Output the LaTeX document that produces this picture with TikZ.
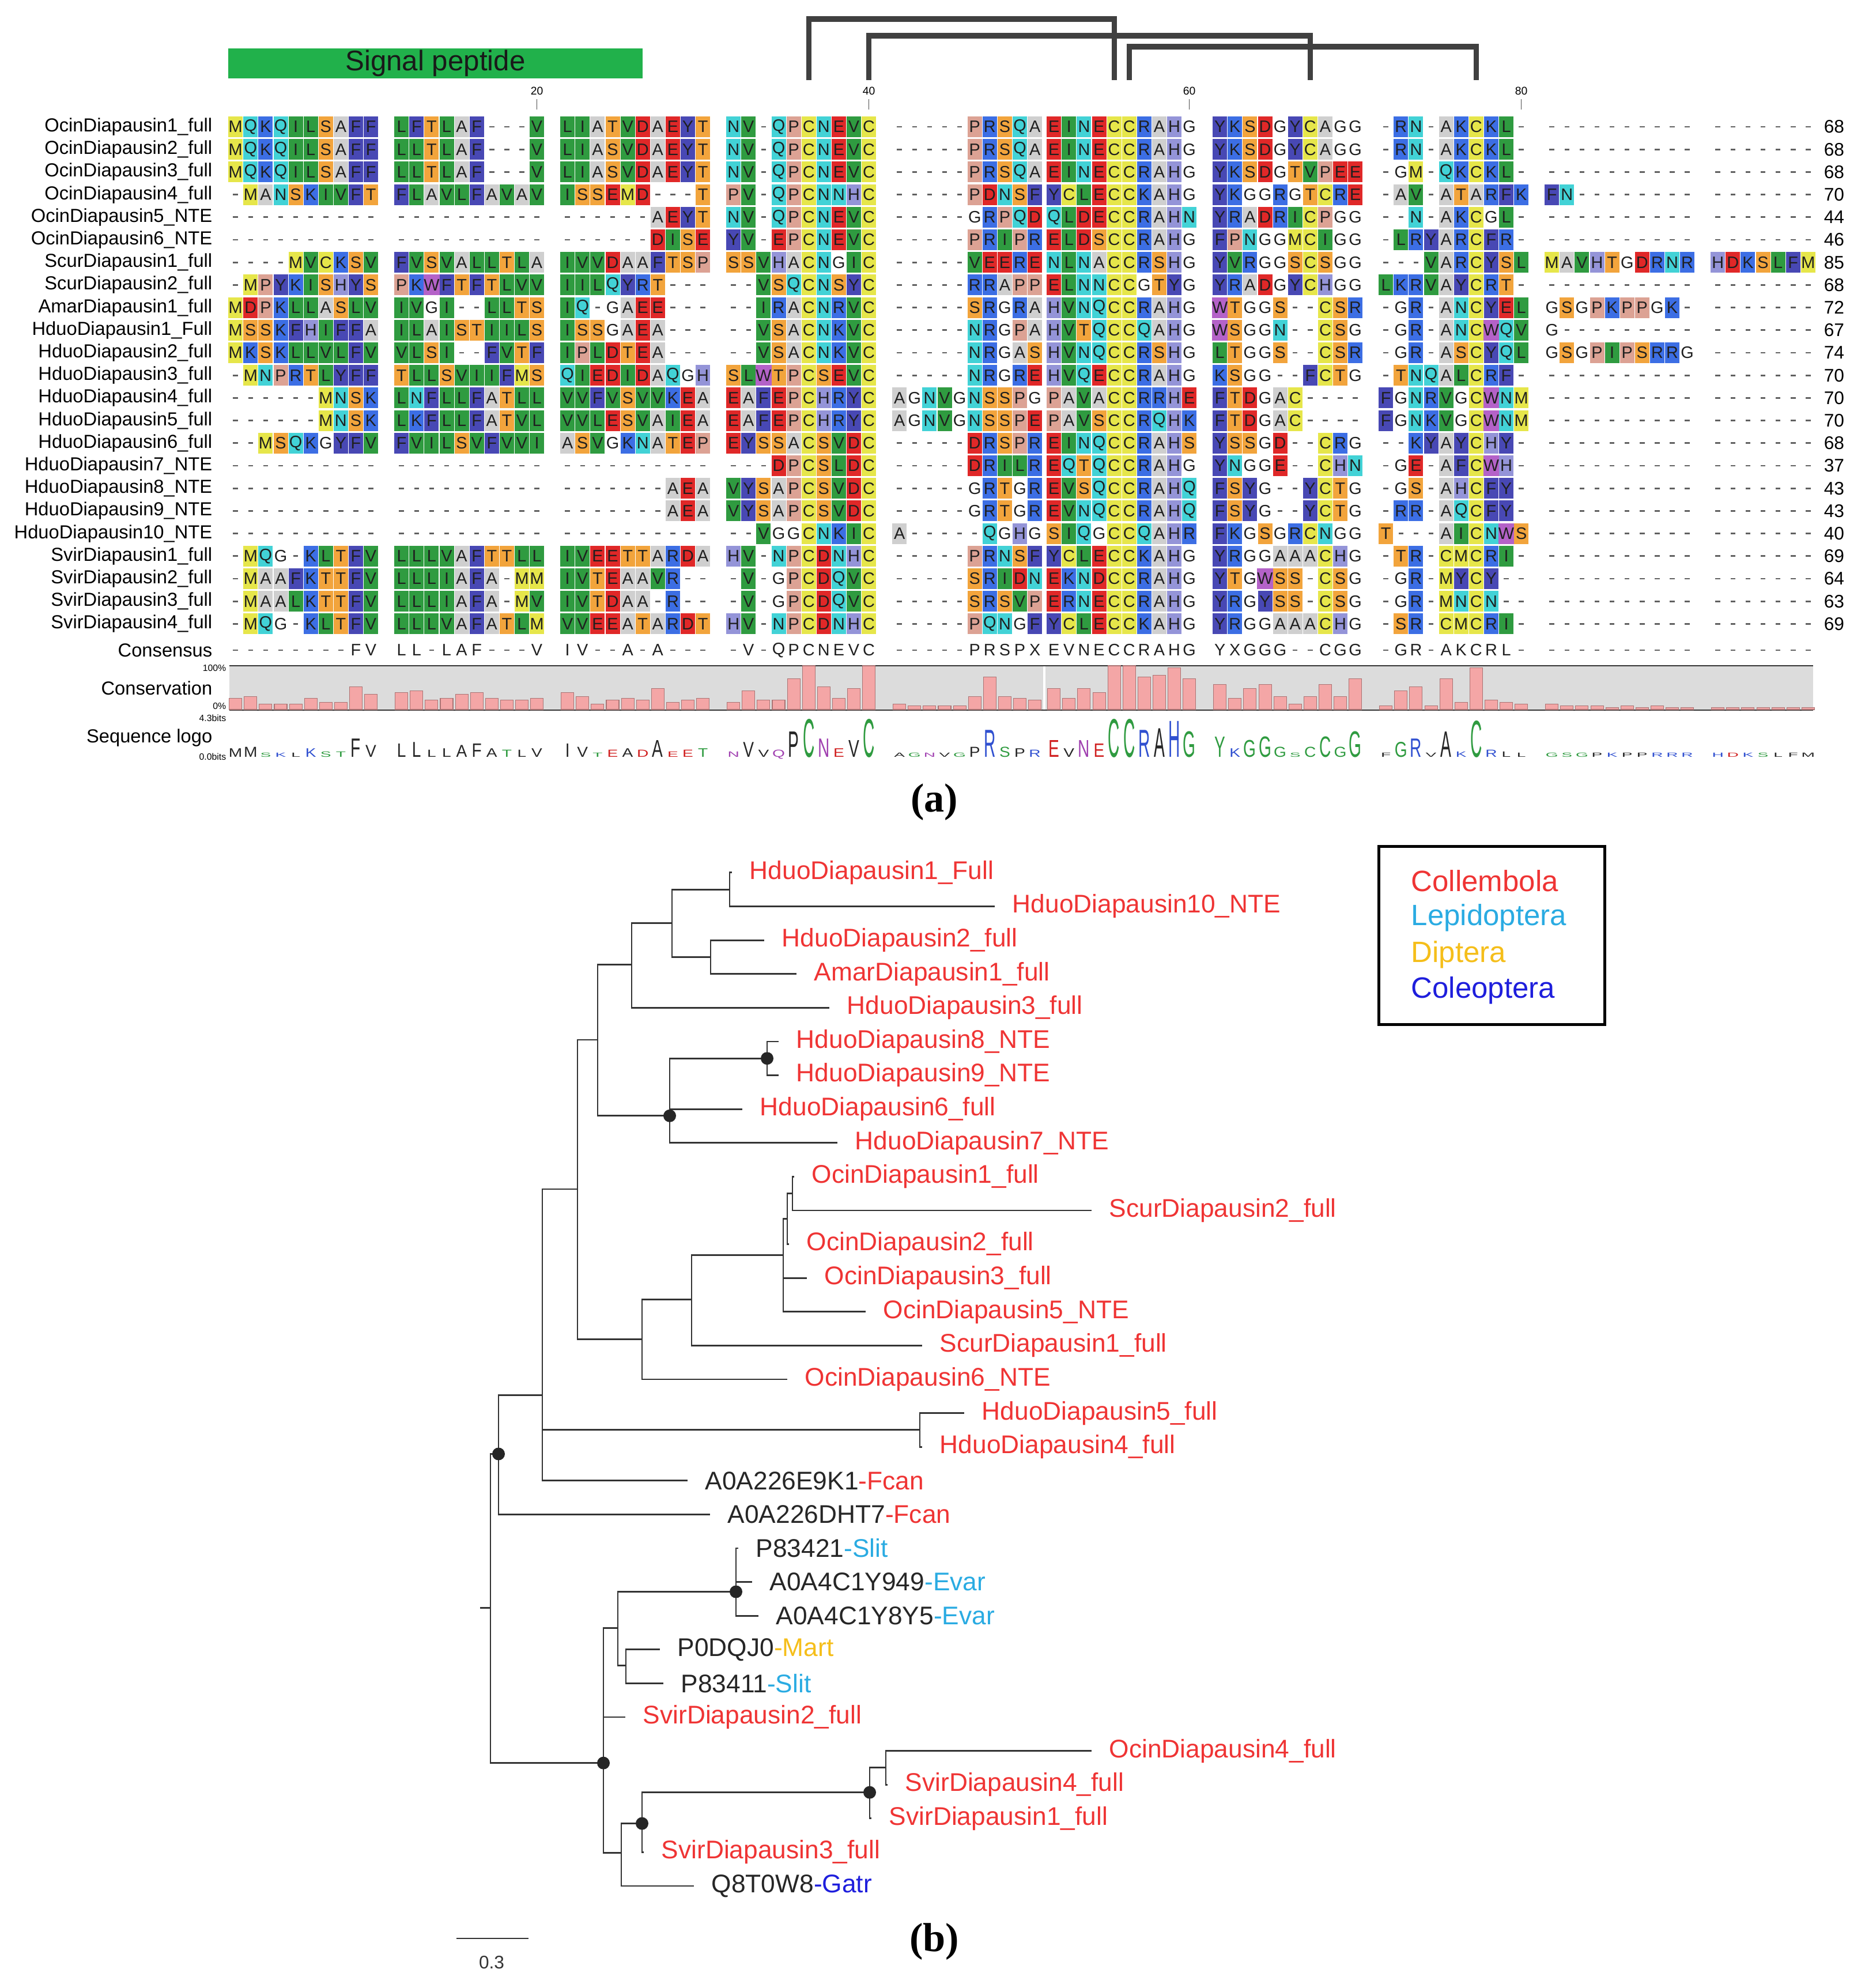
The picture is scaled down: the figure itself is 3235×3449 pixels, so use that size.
\documentclass[tikz,border=0pt]{standalone}
\usepackage{fontspec}
\setmainfont{Liberation Sans}
\newfontfamily\panelfont{Liberation Serif}
\usetikzlibrary{positioning}

% residue colours (alignment cells)
\definecolor{resA}{HTML}{CFCFCF}
\definecolor{resC}{HTML}{E6E64A}
\definecolor{resM}{HTML}{E6E64A}
\definecolor{resD}{HTML}{E02828}
\definecolor{resE}{HTML}{E02828}
\definecolor{resF}{HTML}{4848B4}
\definecolor{resY}{HTML}{4848B4}
\definecolor{resG}{HTML}{FFFFFF}
\definecolor{resH}{HTML}{9494D8}
\definecolor{resI}{HTML}{2F9B40}
\definecolor{resL}{HTML}{2F9B40}
\definecolor{resV}{HTML}{2F9B40}
\definecolor{resK}{HTML}{3C6EE4}
\definecolor{resR}{HTML}{3C6EE4}
\definecolor{resN}{HTML}{42D2D6}
\definecolor{resQ}{HTML}{42D2D6}
\definecolor{resP}{HTML}{DCA294}
\definecolor{resS}{HTML}{F2A43C}
\definecolor{resT}{HTML}{F2A43C}
\definecolor{resW}{HTML}{B462C8}
% logo colours
\colorlet{logoA}{black!85}\colorlet{logoV}{black!85}\colorlet{logoL}{black!85}
\colorlet{logoI}{black!85}\colorlet{logoP}{black!85}\colorlet{logoW}{black!85}
\colorlet{logoF}{black!85}\colorlet{logoM}{black!85}
\definecolor{logoG}{HTML}{2F9B40}\colorlet{logoS}{logoG}\colorlet{logoT}{logoG}
\colorlet{logoY}{logoG}\colorlet{logoC}{logoG}
\definecolor{logoN}{HTML}{A040B0}\colorlet{logoQ}{logoN}
\definecolor{logoK}{HTML}{3050D0}\colorlet{logoR}{logoK}\colorlet{logoH}{logoK}
\definecolor{logoD}{HTML}{D02020}\colorlet{logoE}{logoD}
% figure colours
\definecolor{sigpepgreen}{HTML}{21B14B}
\definecolor{bargray}{HTML}{DCDCDC}
\definecolor{barpink}{HTML}{F4A6A6}
\definecolor{colred}{HTML}{EF3434}
\definecolor{lepiblue}{HTML}{2AABE2}
\definecolor{dipgold}{HTML}{F5BE1A}
\definecolor{coleoblue}{HTML}{1E1EDC}

\tikzset{
  cell/.style={inner sep=0pt, minimum width=0.25cm, minimum height=0.36cm,
    font=\fontsize{8.2}{8.2}\selectfont, text=black!88},
  gapres/.style={inner sep=0pt, minimum width=0.085cm, minimum height=0.028cm, fill=black!62},
  seqname/.style={anchor=east, inner sep=0pt, font=\fontsize{9.3}{11}\selectfont},
  seqlen/.style={anchor=west, inner sep=0pt, font=\fontsize{9}{11}\selectfont},
  tinylabel/.style={anchor=east, inner sep=0pt, font=\fontsize{4.5}{5}\selectfont},
  bond/.style={line width=2.6pt, draw=black!75},
  consbar/.style={fill=barpink, draw=barpink!70!black, line width=0.3pt},
  logoletter/.style={anchor=base, inner sep=0pt, font=\fontsize{10}{10}\selectfont},
  branch/.style={line width=0.8pt, draw=black!80},
  tiplabel/.style={anchor=west, inner sep=0pt, xshift=0.3cm,
    font=\fontsize{12.6}{14}\selectfont},
  nodedot/.style={circle, fill=black!85, inner sep=0pt, minimum size=0.22cm},
  legendtext/.style={anchor=west, inner sep=0pt, font=\fontsize{14.5}{16}\selectfont},
}

\makeatletter
\newcount\rescol
\def\gapchar{-}
% one alignment row: #1 row, #2 name, #3 residues, #4 length
\newcommand\alnrow[4]{%
  \pgfmathsetmacro\rowy{220+39.2*(#1-1)}%
  \node[seqname] (name#1) at (369,\rowy) {#2};
  \node[seqlen] (len#1) at (3164,\rowy) {#4};
  \global\rescol=0
  \@tfor\res:=#3\do{%
    \global\advance\rescol by 1
    \pgfmathsetmacro\resx{408.7+26.1*mod(\the\rescol-1,10)+288*int((\the\rescol-1)/10)-20*(\the\rescol>50)}%
    \edef\rescolor{res\res}%
    \ifx\res\gapchar
      \node[gapres] (c#1-\the\rescol) at (\resx,\rowy) {};
    \else
      \node[cell, fill=\rescolor] (c#1-\the\rescol) at (\resx,\rowy) {\res};
    \fi
  }%
}
% consensus row
\newcommand\consrow[1]{%
  \global\rescol=0
  \@tfor\res:=#1\do{%
    \global\advance\rescol by 1
    \pgfmathsetmacro\resx{408.7+26.1*mod(\the\rescol-1,10)+288*int((\the\rescol-1)/10)-20*(\the\rescol>50)}%
    \ifx\res\gapchar
      \node[gapres] (cons-\the\rescol) at (\resx,1128) {};
    \else
      \node[cell] (cons-\the\rescol) at (\resx,1128) {\res};
    \fi
  }%
}
\makeatother

\begin{document}
\begin{tikzpicture}[x=0.01cm, y=-0.01cm]
\useasboundingbox (0,0) rectangle (3235,3449);

% ---------- (a) alignment ----------
\node[fill=sigpepgreen, minimum width=7.19cm, minimum height=0.52cm, inner sep=0pt,
  font=\fontsize{14}{14}\selectfont, text=black!90] (sigpep) at (755.5,110) {Signal peptide};

% disulfide brackets
\coordinate (cys36) at (1403.2,139);
\coordinate (cys40) at (1507.6,139);
\coordinate (cys55) at (1933.1,139);
\coordinate (cys56) at (1959.2,139);
\coordinate (cys67) at (2273.3,139);
\coordinate (cys77) at (2561.3,139);
\draw[bond] (cys56) -- ++(0,-58) -| (cys77);
\draw[bond] (cys40) -- ++(0,-77) -| (cys67);
\draw[bond] (cys36) -- ++(0,-106) -| (cys55);

% ruler
\foreach \pos/\num in {931.6/20, 1507.6/40, 2063.6/60, 2639.6/80}{
  \node[inner sep=0pt, font=\fontsize{5.5}{6}\selectfont] (ruler\num) at (\pos,158) {\num};
  \draw[black!70, line width=0.4pt] (\pos,172) -- (\pos,190);
}

\alnrow{1}{OcinDiapausin1\_full}{MQKQILSAFF LFTLAF---V LIATVDAEYT NV-QPCNEVC -----PRSQA EINECCRAHG YKSDGYCAGG -RN-AKCKL- ---------- -------}{68}
\alnrow{2}{OcinDiapausin2\_full}{MQKQILSAFF LLTLAF---V LIASVDAEYT NV-QPCNEVC -----PRSQA EINECCRAHG YKSDGYCAGG -RN-AKCKL- ---------- -------}{68}
\alnrow{3}{OcinDiapausin3\_full}{MQKQILSAFF LLTLAF---V LIASVDAEYT NV-QPCNEVC -----PRSQA EINECCRAHG YKSDGTVPEE -GM-QKCKL- ---------- -------}{68}
\alnrow{4}{OcinDiapausin4\_full}{-MANSKIVFT FLAVLFAVAV ISSEMD---T PV-QPCNNHC -----PDNSF YCLECCKAHG YKGGRGTCRE -AV-ATARFK FN-------- -------}{70}
\alnrow{5}{OcinDiapausin5\_NTE}{---------- ---------- ------AEYT NV-QPCNEVC -----GRPQD QLDECCRAHN YRADRICPGG --N-AKCGL- ---------- -------}{44}
\alnrow{6}{OcinDiapausin6\_NTE}{---------- ---------- ------DISE YV-EPCNEVC -----PRIPR ELDSCCRAHG FPNGGMCIGG -LRYARCFR- ---------- -------}{46}
\alnrow{7}{ScurDiapausin1\_full}{----MVCKSV FVSVALLTLA IVVDAAFTSP SSVHACNGIC -----VEERE NLNACCRSHG YVRGGSCSGG ---VARCYSL MAVHTGDRNR HDKSLFM}{85}
\alnrow{8}{ScurDiapausin2\_full}{-MPYKISHYS PKWFTFTLVV IILQYRT--- --VSQCNSYC -----RRAPP ELNNCCGTYG YRADGYCHGG LKRVAYCRT- ---------- -------}{68}
\alnrow{9}{AmarDiapausin1\_full}{MDPKLLASLV IVGI--LLTS IQ-GAEE--- --IRACNRVC -----SRGRA HVNQCCRAHG WTGGS--CSR -GR-ANCYEL GSGPKPPGK- -------}{72}
\alnrow{10}{HduoDiapausin1\_Full}{MSSKFHIFFA ILAISTIILS ISSGAEA--- --VSACNKVC -----NRGPA HVTQCCQAHG WSGGN--CSG -GR-ANCWQV G--------- -------}{67}
\alnrow{11}{HduoDiapausin2\_full}{MKSKLLVLFV VLSI--FVTF IPLDTEA--- --VSACNKVC -----NRGAS HVNQCCRSHG LTGGS--CSR -GR-ASCYQL GSGPIPSRRG -------}{74}
\alnrow{12}{HduoDiapausin3\_full}{-MNPRTLYFF TLLSVIIFMS QIEDIDAQGH SLWTPCSEVC -----NRGRE HVQECCRAHG KSGG--FCTG -TNQALCRF- ---------- -------}{70}
\alnrow{13}{HduoDiapausin4\_full}{------MNSK LNFLLFATLL VVFVSVVKEA EAFEPCHRYC AGNVGNSSPG PAVACCRRHE FTDGAC---- FGNRVGCWNM ---------- -------}{70}
\alnrow{14}{HduoDiapausin5\_full}{------MNSK LKFLLFATVL VVLESVAIEA EAFEPCHRYC AGNVGNSSPE PAVSCCRQHK FTDGAC---- FGNKVGCWNM ---------- -------}{70}
\alnrow{15}{HduoDiapausin6\_full}{--MSQKGYFV FVILSVFVVI ASVGKNATEP EYSSACSVDC -----DRSPR EINQCCRAHS YSSGD--CRG --KYAYCHY- ---------- -------}{68}
\alnrow{16}{HduoDiapausin7\_NTE}{---------- ---------- ---------- ---DPCSLDC -----DRILR EQTQCCRAHG YNGGE--CHN -GE-AFCWH- ---------- -------}{37}
\alnrow{17}{HduoDiapausin8\_NTE}{---------- ---------- -------AEA VYSAPCSVDC -----GRTGR EVSQCCRAHQ FSYG--YCTG -GS-AHCFY- ---------- -------}{43}
\alnrow{18}{HduoDiapausin9\_NTE}{---------- ---------- -------AEA VYSAPCSVDC -----GRTGR EVNQCCRAHQ FSYG--YCTG -RR-AQCFY- ---------- -------}{43}
\alnrow{19}{HduoDiapausin10\_NTE}{---------- ---------- ---------- --VGGCNKIC A-----QGHG SIQGCCQAHR FKGSGRCNGG T---AICNWS ---------- -------}{40}
\alnrow{20}{SvirDiapausin1\_full}{-MQG-KLTFV LLLVAFTTLL IVEETTARDA HV-NPCDNHC -----PRNSF YCLECCKAHG YRGGAAACHG -TR-CMCRI- ---------- -------}{69}
\alnrow{21}{SvirDiapausin2\_full}{-MAAFKTTFV LLLIAFA-MM IVTEAAVR-- -V-GPCDQVC -----SRIDN EKNDCCRAHG YTGWSS-CSG -GR-MYCY-- ---------- -------}{64}
\alnrow{22}{SvirDiapausin3\_full}{-MAALKTTFV LLLIAFA-MV IVTDAA-R-- -V-GPCDQVC -----SRSVP ERNECCRAHG YRGYSS-CSG -GR-MNCN-- ---------- -------}{63}
\alnrow{23}{SvirDiapausin4\_full}{-MQG-KLTFV LLLVAFATLM VVEEATARDT HV-NPCDNHC -----PQNGF YCLECCKAHG YRGGAAACHG -SR-CMCRI- ---------- -------}{69}

% consensus
\node[seqname] (consname) at (369,1128) {Consensus};
\consrow{--------FV LL-LAF---V IV--A-A--- -V-QPCNEVC -----PRSPX EVNECCRAHG YXGGG--CGG -GR-AKCRL- ---------- -------}

% conservation
\node[seqname] (conservname) at (369,1194) {Conservation};
\node[tinylabel] (pct100) at (393,1159) {100\%};
\node[tinylabel] (pct0) at (393,1225) {0\%};
\fill[bargray] (398,1155) rectangle (3146,1232);
\draw[black!80, line width=0.7pt] (398,1155) -- (3146,1155);
\draw[black!80, line width=0.7pt] (398,1232) -- (3146,1232);
\draw[white, line width=1pt] (1812,1156) -- (1812,1231);

% sequence logo
\node[seqname] (logoname) at (369,1280) {Sequence logo};
\node[tinylabel] (bits43) at (393,1246) {4.3bits};
\node[tinylabel] (bits00) at (393,1313) {0.0bits};

\foreach \cv/\lg [count=\i] in {26/M,30/M,13/S,13/K,13/L,26/K,17/S,17/T,52/F,35/V,
  39/L,43/L,22/L,26/L,35/A,39/F,26/A,22/T,22/L,26/V,
  39/I,30/V,13/T,22/E,26/A,22/D,48/A,17/E,22/E,26/T,
  17/N,43/V,22/V,22/Q,70/P,100/C,52/N,26/E,48/V,100/C,
  13/A,9/G,9/N,9/V,9/G,30/P,74/R,30/S,26/P,22/R,
  48/E,26/V,48/N,39/E,100/C,100/C,74/R,78/A,96/H,70/G,
  57/Y,26/K,48/G,57/G,30/G,13/S,30/C,57/C,30/G,70/G,
  9/F,43/G,52/R,9/V,70/A,17/K,96/C,22/R,17/L,13/L,
  13/G,9/S,9/G,9/P,4/K,9/P,4/P,9/R,4/R,4/R,
  4/H,4/D,4/K,4/S,4/L,4/F,4/M}{
  \pgfmathsetmacro\bx{408.7+26.1*mod(\i-1,10)+288*int((\i-1)/10)-20*(\i>50)}
  \pgfmathsetmacro\bt{1231-0.76*\cv}
  \draw[consbar] (\bx-11,1231) rectangle (\bx+11,\bt);
  \pgfmathsetmacro\lh{max(0.3,68*(\cv/100)^1.1/25.3)}
  \node[logoletter, text=logo\lg] (logo\i) at (\bx,1313) {\scalebox{0.8}[\lh]{\lg}};
}

\node[inner sep=0pt, font=\panelfont\bfseries\fontsize{20}{20}\selectfont] (panela) at (1621,1392) {(a)};

% ---------- (b) tree ----------
\begin{scope}[y=-0.5857cm, yshift=-14.5443cm]
% inner nodes
\coordinate (root) at (833,22.76);
\coordinate (nR) at (851,22.76);
\coordinate (nA) at (865,18.21);
\coordinate (nC) at (941,16.47);
\coordinate (nE) at (1596,17.49);
\coordinate (nD) at (1002,10.37);
\coordinate (nF) at (1037,5.95);
\coordinate (nH) at (1096,3.72);
\coordinate (nJ) at (1166,2.5);
\coordinate (nK) at (1266,1.5);
\coordinate (nL) at (1233,3.5);
\coordinate (nI) at (1162,8.2);
\coordinate (nM) at (1331,6.5);
\coordinate (nG) at (1114,14.81);
\coordinate (nN) at (1200,13.64);
\coordinate (nO) at (1359,12.33);
\coordinate (nP) at (1366,11.25);
\coordinate (nQ) at (1375,10.5);
\coordinate (nB) at (1047,27.36);
\coordinate (nS) at (1072,23.37);
\coordinate (nU) at (1277,22.29);
\coordinate (nV) at (1086,24.47);
\coordinate (nT) at (1078,30.02);
\coordinate (nW) at (1114,29.15);
\coordinate (nX) at (1509,28.23);
\coordinate (nY) at (1537,27.5);
% tips
\coordinate (t1) at (1270,1);
\coordinate (t2) at (1726,2);
\coordinate (t3) at (1326,3);
\coordinate (t4) at (1382,4);
\coordinate (t5) at (1439,5);
\coordinate (t6) at (1351,6);
\coordinate (t7) at (1351,7);
\coordinate (t8) at (1288,8);
\coordinate (t9) at (1453,9);
\coordinate (t10) at (1378,10);
\coordinate (t11) at (1894,11);
\coordinate (t12) at (1369,12);
\coordinate (t13) at (1400,13);
\coordinate (t14) at (1502,14);
\coordinate (t15) at (1600,15);
\coordinate (t16) at (1366,16);
\coordinate (t17) at (1673,17);
\coordinate (t18) at (1600,18);
\coordinate (t19) at (1193,19);
\coordinate (t20) at (1232,20);
\coordinate (t21) at (1281,21);
\coordinate (t22) at (1305,22);
\coordinate (t23) at (1316,23);
\coordinate (t24) at (1145,24);
\coordinate (t25) at (1151,25);
\coordinate (t26) at (1085,26);
\coordinate (t27) at (1894,27);
\coordinate (t28) at (1540,28);
\coordinate (t29) at (1512,29);
\coordinate (t30) at (1117,30);
\coordinate (t31) at (1204,31);

% branches
\draw[branch] (root) -- (nR);
\draw[branch] (nR) |- (nA);
\draw[branch] (nR) |- (nB);
\draw[branch] (nA) |- (nC);
\draw[branch] (nA) |- (t20);
\draw[branch] (nC) |- (nD);
\draw[branch] (nC) |- (nE);
\draw[branch] (nC) |- (t19);
\draw[branch] (nE) |- (t17);
\draw[branch] (nE) |- (t18);
\draw[branch] (nD) |- (nF);
\draw[branch] (nD) |- (nG);
\draw[branch] (nF) |- (nH);
\draw[branch] (nF) |- (nI);
\draw[branch] (nH) |- (nJ);
\draw[branch] (nH) |- (t5);
\draw[branch] (nJ) |- (nK);
\draw[branch] (nJ) |- (nL);
\draw[branch] (nK) |- (t1);
\draw[branch] (nK) |- (t2);
\draw[branch] (nL) |- (t3);
\draw[branch] (nL) |- (t4);
\draw[branch] (nI) |- (nM);
\draw[branch] (nI) |- (t8);
\draw[branch] (nI) |- (t9);
\draw[branch] (nM) |- (t6);
\draw[branch] (nM) |- (t7);
\draw[branch] (nG) |- (nN);
\draw[branch] (nG) |- (t16);
\draw[branch] (nN) |- (nO);
\draw[branch] (nN) |- (t15);
\draw[branch] (nO) |- (nP);
\draw[branch] (nO) |- (t13);
\draw[branch] (nO) |- (t14);
\draw[branch] (nP) |- (nQ);
\draw[branch] (nP) |- (t12);
\draw[branch] (nQ) |- (t10);
\draw[branch] (nQ) |- (t11);
\draw[branch] (nB) |- (nS);
\draw[branch] (nB) |- (t26);
\draw[branch] (nB) |- (nT);
\draw[branch] (nS) |- (nU);
\draw[branch] (nS) |- (nV);
\draw[branch] (nU) |- (t21);
\draw[branch] (nU) |- (t22);
\draw[branch] (nU) |- (t23);
\draw[branch] (nV) |- (t24);
\draw[branch] (nV) |- (t25);
\draw[branch] (nT) |- (nW);
\draw[branch] (nT) |- (t31);
\draw[branch] (nW) |- (nX);
\draw[branch] (nW) |- (t30);
\draw[branch] (nX) |- (nY);
\draw[branch] (nX) |- (t29);
\draw[branch] (nY) |- (t27);
\draw[branch] (nY) |- (t28);

% supported nodes
\node[nodedot] (dA) at (nA) {};
\node[nodedot] (dI) at (nI) {};
\node[nodedot] (dM) at (nM) {};
\node[nodedot] (dB) at (nB) {};
\node[nodedot] (dU) at (nU) {};
\node[nodedot] (dW) at (nW) {};
\node[nodedot] (dX) at (nX) {};

% tip labels
\node[tiplabel, text=colred] (l1) at (t1) {HduoDiapausin1\_Full};
\node[tiplabel, text=colred] (l2) at (t2) {HduoDiapausin10\_NTE};
\node[tiplabel, text=colred] (l3) at (t3) {HduoDiapausin2\_full};
\node[tiplabel, text=colred] (l4) at (t4) {AmarDiapausin1\_full};
\node[tiplabel, text=colred] (l5) at (t5) {HduoDiapausin3\_full};
\node[tiplabel, text=colred] (l6) at (t6) {HduoDiapausin8\_NTE};
\node[tiplabel, text=colred] (l7) at (t7) {HduoDiapausin9\_NTE};
\node[tiplabel, text=colred] (l8) at (t8) {HduoDiapausin6\_full};
\node[tiplabel, text=colred] (l9) at (t9) {HduoDiapausin7\_NTE};
\node[tiplabel, text=colred] (l10) at (t10) {OcinDiapausin1\_full};
\node[tiplabel, text=colred] (l11) at (t11) {ScurDiapausin2\_full};
\node[tiplabel, text=colred] (l12) at (t12) {OcinDiapausin2\_full};
\node[tiplabel, text=colred] (l13) at (t13) {OcinDiapausin3\_full};
\node[tiplabel, text=colred] (l14) at (t14) {OcinDiapausin5\_NTE};
\node[tiplabel, text=colred] (l15) at (t15) {ScurDiapausin1\_full};
\node[tiplabel, text=colred] (l16) at (t16) {OcinDiapausin6\_NTE};
\node[tiplabel, text=colred] (l17) at (t17) {HduoDiapausin5\_full};
\node[tiplabel, text=colred] (l18) at (t18) {HduoDiapausin4\_full};
\node[tiplabel, text=black!85] (l19) at (t19) {A0A226E9K1\textcolor{colred}{-Fcan}};
\node[tiplabel, text=black!85] (l20) at (t20) {A0A226DHT7\textcolor{colred}{-Fcan}};
\node[tiplabel, text=black!85] (l21) at (t21) {P83421\textcolor{lepiblue}{-Slit}};
\node[tiplabel, text=black!85] (l22) at (t22) {A0A4C1Y949\textcolor{lepiblue}{-Evar}};
\node[tiplabel, text=black!85] (l23) at (t23) {A0A4C1Y8Y5\textcolor{lepiblue}{-Evar}};
\node[tiplabel, text=black!85] (l24) at (t24) {P0DQJ0\textcolor{dipgold}{-Mart}};
\node[tiplabel, text=black!85] (l25) at (t25) {P83411\textcolor{lepiblue}{-Slit}};
\node[tiplabel, text=colred] (l26) at (t26) {SvirDiapausin2\_full};
\node[tiplabel, text=colred] (l27) at (t27) {OcinDiapausin4\_full};
\node[tiplabel, text=colred] (l28) at (t28) {SvirDiapausin4\_full};
\node[tiplabel, text=colred] (l29) at (t29) {SvirDiapausin1\_full};
\node[tiplabel, text=colred] (l30) at (t30) {SvirDiapausin3\_full};
\node[tiplabel, text=black!85] (l31) at (t31) {Q8T0W8\textcolor{coleoblue}{-Gatr}};
\end{scope}

% legend
\node[draw=black, line width=1.4pt, minimum width=3.91cm, minimum height=3.08cm, inner sep=0pt] (legend) at (2588.5,1623) {};
\node[legendtext, text=colred] (leg1) at (2448,1528) {Collembola};
\node[legendtext, text=lepiblue] (leg2) at (2448,1592) {Lepidoptera};
\node[legendtext, text=dipgold] (leg3) at (2448,1656) {Diptera};
\node[legendtext, text=coleoblue] (leg4) at (2448,1718) {Coleoptera};

% scale bar
\coordinate (sb0) at (792,3363);
\coordinate (sb1) at (917,3363);
\draw[branch] (sb0) -- (sb1);
\node[inner sep=0pt, font=\fontsize{9}{10}\selectfont, text=black!80] (sblabel) at (853,3405) {0.3};

\node[inner sep=0pt, font=\panelfont\bfseries\fontsize{20}{20}\selectfont] (panelb) at (1621,3369) {(b)};
\end{tikzpicture}
\end{document}
